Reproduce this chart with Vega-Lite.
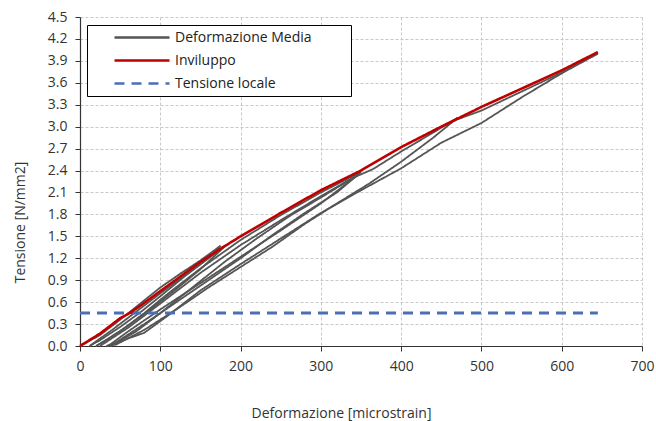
{
  "$schema": "https://vega.github.io/schema/vega-lite/v6.json",
  "width": 562,
  "height": 329,
  "autosize": {"type": "none"},
  "padding": {"left": 80, "top": 17, "right": 14, "bottom": 75},
  "background": "white",
  "config": {
    "font": "Open Sans",
    "view": {"stroke": null},
    "axis": {
      "labelFont": "Open Sans",
      "labelFontSize": 14,
      "labelColor": "#333333",
      "labelFlush": false,
      "titleFont": "Open Sans",
      "titleFontSize": 14,
      "titleFontWeight": "normal",
      "titleColor": "#333333",
      "domainColor": "#333333",
      "domainWidth": 1.2,
      "tickColor": "#333333",
      "tickSize": 5,
      "gridColor": "#c8c8c8",
      "gridDash": [3, 2],
      "gridWidth": 1
    }
  },
  "data": {
    "values": [
      {"s": "g1", "legend": "Deformazione Media", "x": 0, "y": 0},
      {"s": "g1", "legend": "Deformazione Media", "x": 25, "y": 0.15},
      {"s": "g1", "legend": "Deformazione Media", "x": 50, "y": 0.36},
      {"s": "g1", "legend": "Deformazione Media", "x": 75, "y": 0.58},
      {"s": "g1", "legend": "Deformazione Media", "x": 100, "y": 0.8},
      {"s": "g1", "legend": "Deformazione Media", "x": 125, "y": 0.99},
      {"s": "g1", "legend": "Deformazione Media", "x": 150, "y": 1.17},
      {"s": "g1", "legend": "Deformazione Media", "x": 175, "y": 1.37},
      {"s": "g2", "legend": "Deformazione Media", "x": 175, "y": 1.37},
      {"s": "g2", "legend": "Deformazione Media", "x": 160, "y": 1.2},
      {"s": "g2", "legend": "Deformazione Media", "x": 130, "y": 0.95},
      {"s": "g2", "legend": "Deformazione Media", "x": 100, "y": 0.68},
      {"s": "g2", "legend": "Deformazione Media", "x": 75, "y": 0.46},
      {"s": "g2", "legend": "Deformazione Media", "x": 50, "y": 0.26},
      {"s": "g2", "legend": "Deformazione Media", "x": 25, "y": 0.08},
      {"s": "g2", "legend": "Deformazione Media", "x": 12, "y": 0},
      {"s": "g3", "legend": "Deformazione Media", "x": 12, "y": 0},
      {"s": "g3", "legend": "Deformazione Media", "x": 40, "y": 0.22},
      {"s": "g3", "legend": "Deformazione Media", "x": 70, "y": 0.47},
      {"s": "g3", "legend": "Deformazione Media", "x": 100, "y": 0.72},
      {"s": "g3", "legend": "Deformazione Media", "x": 130, "y": 0.96},
      {"s": "g3", "legend": "Deformazione Media", "x": 160, "y": 1.2},
      {"s": "g3", "legend": "Deformazione Media", "x": 180, "y": 1.36},
      {"s": "g4", "legend": "Deformazione Media", "x": 180, "y": 1.36},
      {"s": "g4", "legend": "Deformazione Media", "x": 150, "y": 1.05},
      {"s": "g4", "legend": "Deformazione Media", "x": 120, "y": 0.78},
      {"s": "g4", "legend": "Deformazione Media", "x": 90, "y": 0.52},
      {"s": "g4", "legend": "Deformazione Media", "x": 60, "y": 0.28},
      {"s": "g4", "legend": "Deformazione Media", "x": 30, "y": 0.06},
      {"s": "g4", "legend": "Deformazione Media", "x": 20, "y": 0},
      {"s": "g5", "legend": "Deformazione Media", "x": 20, "y": 0},
      {"s": "g5", "legend": "Deformazione Media", "x": 50, "y": 0.2},
      {"s": "g5", "legend": "Deformazione Media", "x": 80, "y": 0.45},
      {"s": "g5", "legend": "Deformazione Media", "x": 110, "y": 0.72},
      {"s": "g5", "legend": "Deformazione Media", "x": 150, "y": 1.06},
      {"s": "g5", "legend": "Deformazione Media", "x": 200, "y": 1.45},
      {"s": "g5", "legend": "Deformazione Media", "x": 250, "y": 1.79},
      {"s": "g5", "legend": "Deformazione Media", "x": 300, "y": 2.1},
      {"s": "g5", "legend": "Deformazione Media", "x": 350, "y": 2.38},
      {"s": "g6", "legend": "Deformazione Media", "x": 350, "y": 2.38},
      {"s": "g6", "legend": "Deformazione Media", "x": 320, "y": 2.1},
      {"s": "g6", "legend": "Deformazione Media", "x": 280, "y": 1.82},
      {"s": "g6", "legend": "Deformazione Media", "x": 240, "y": 1.52},
      {"s": "g6", "legend": "Deformazione Media", "x": 200, "y": 1.2},
      {"s": "g6", "legend": "Deformazione Media", "x": 160, "y": 0.9},
      {"s": "g6", "legend": "Deformazione Media", "x": 120, "y": 0.6},
      {"s": "g6", "legend": "Deformazione Media", "x": 80, "y": 0.3},
      {"s": "g6", "legend": "Deformazione Media", "x": 45, "y": 0.05},
      {"s": "g6", "legend": "Deformazione Media", "x": 38, "y": 0},
      {"s": "g12", "legend": "Deformazione Media", "x": 25, "y": 0},
      {"s": "g12", "legend": "Deformazione Media", "x": 60, "y": 0.25},
      {"s": "g12", "legend": "Deformazione Media", "x": 100, "y": 0.58},
      {"s": "g12", "legend": "Deformazione Media", "x": 150, "y": 1.0},
      {"s": "g12", "legend": "Deformazione Media", "x": 200, "y": 1.38},
      {"s": "g12", "legend": "Deformazione Media", "x": 250, "y": 1.72},
      {"s": "g12", "legend": "Deformazione Media", "x": 300, "y": 2.05},
      {"s": "g12", "legend": "Deformazione Media", "x": 345, "y": 2.33},
      {"s": "g13", "legend": "Deformazione Media", "x": 345, "y": 2.33},
      {"s": "g13", "legend": "Deformazione Media", "x": 300, "y": 1.95},
      {"s": "g13", "legend": "Deformazione Media", "x": 250, "y": 1.58},
      {"s": "g13", "legend": "Deformazione Media", "x": 200, "y": 1.22},
      {"s": "g13", "legend": "Deformazione Media", "x": 150, "y": 0.86},
      {"s": "g13", "legend": "Deformazione Media", "x": 100, "y": 0.5},
      {"s": "g13", "legend": "Deformazione Media", "x": 60, "y": 0.2},
      {"s": "g13", "legend": "Deformazione Media", "x": 35, "y": 0},
      {"s": "g7", "legend": "Deformazione Media", "x": 38, "y": 0},
      {"s": "g7", "legend": "Deformazione Media", "x": 70, "y": 0.2},
      {"s": "g7", "legend": "Deformazione Media", "x": 100, "y": 0.45},
      {"s": "g7", "legend": "Deformazione Media", "x": 140, "y": 0.8},
      {"s": "g7", "legend": "Deformazione Media", "x": 180, "y": 1.15},
      {"s": "g7", "legend": "Deformazione Media", "x": 220, "y": 1.47},
      {"s": "g7", "legend": "Deformazione Media", "x": 260, "y": 1.77},
      {"s": "g7", "legend": "Deformazione Media", "x": 300, "y": 2.03},
      {"s": "g7", "legend": "Deformazione Media", "x": 340, "y": 2.3},
      {"s": "g7", "legend": "Deformazione Media", "x": 365, "y": 2.42},
      {"s": "g7", "legend": "Deformazione Media", "x": 400, "y": 2.66},
      {"s": "g7", "legend": "Deformazione Media", "x": 440, "y": 2.92},
      {"s": "g7", "legend": "Deformazione Media", "x": 470, "y": 3.12},
      {"s": "g9", "legend": "Deformazione Media", "x": 470, "y": 3.12},
      {"s": "g9", "legend": "Deformazione Media", "x": 440, "y": 2.85},
      {"s": "g9", "legend": "Deformazione Media", "x": 400, "y": 2.52},
      {"s": "g9", "legend": "Deformazione Media", "x": 360, "y": 2.22},
      {"s": "g9", "legend": "Deformazione Media", "x": 320, "y": 1.95},
      {"s": "g9", "legend": "Deformazione Media", "x": 280, "y": 1.67},
      {"s": "g9", "legend": "Deformazione Media", "x": 240, "y": 1.36},
      {"s": "g9", "legend": "Deformazione Media", "x": 200, "y": 1.08},
      {"s": "g9", "legend": "Deformazione Media", "x": 160, "y": 0.8},
      {"s": "g9", "legend": "Deformazione Media", "x": 120, "y": 0.5},
      {"s": "g9", "legend": "Deformazione Media", "x": 80, "y": 0.22},
      {"s": "g9", "legend": "Deformazione Media", "x": 45, "y": 0.02},
      {"s": "g9", "legend": "Deformazione Media", "x": 33, "y": 0},
      {"s": "g10", "legend": "Deformazione Media", "x": 33, "y": 0},
      {"s": "g10", "legend": "Deformazione Media", "x": 80, "y": 0.18},
      {"s": "g10", "legend": "Deformazione Media", "x": 110, "y": 0.42},
      {"s": "g10", "legend": "Deformazione Media", "x": 150, "y": 0.76},
      {"s": "g10", "legend": "Deformazione Media", "x": 200, "y": 1.12},
      {"s": "g10", "legend": "Deformazione Media", "x": 250, "y": 1.47},
      {"s": "g10", "legend": "Deformazione Media", "x": 300, "y": 1.82},
      {"s": "g10", "legend": "Deformazione Media", "x": 350, "y": 2.13},
      {"s": "g10", "legend": "Deformazione Media", "x": 400, "y": 2.43},
      {"s": "g10", "legend": "Deformazione Media", "x": 450, "y": 2.78},
      {"s": "g10", "legend": "Deformazione Media", "x": 500, "y": 3.05},
      {"s": "g10", "legend": "Deformazione Media", "x": 550, "y": 3.4},
      {"s": "g10", "legend": "Deformazione Media", "x": 600, "y": 3.73},
      {"s": "g10", "legend": "Deformazione Media", "x": 645, "y": 4.0},
      {"s": "g11", "legend": "Deformazione Media", "x": 440, "y": 2.95},
      {"s": "g11", "legend": "Deformazione Media", "x": 470, "y": 3.1},
      {"s": "g11", "legend": "Deformazione Media", "x": 500, "y": 3.22},
      {"s": "g11", "legend": "Deformazione Media", "x": 550, "y": 3.48},
      {"s": "g11", "legend": "Deformazione Media", "x": 600, "y": 3.74},
      {"s": "g11", "legend": "Deformazione Media", "x": 645, "y": 4.0},
      {"s": "t", "legend": "Tensione locale", "x": 0, "y": 0.45},
      {"s": "t", "legend": "Tensione locale", "x": 645, "y": 0.45},
      {"s": "r", "legend": "Inviluppo", "x": 0, "y": 0},
      {"s": "r", "legend": "Inviluppo", "x": 25, "y": 0.17},
      {"s": "r", "legend": "Inviluppo", "x": 50, "y": 0.38},
      {"s": "r", "legend": "Inviluppo", "x": 62, "y": 0.45},
      {"s": "r", "legend": "Inviluppo", "x": 75, "y": 0.55},
      {"s": "r", "legend": "Inviluppo", "x": 100, "y": 0.75},
      {"s": "r", "legend": "Inviluppo", "x": 125, "y": 0.95},
      {"s": "r", "legend": "Inviluppo", "x": 150, "y": 1.15},
      {"s": "r", "legend": "Inviluppo", "x": 175, "y": 1.33},
      {"s": "r", "legend": "Inviluppo", "x": 200, "y": 1.5},
      {"s": "r", "legend": "Inviluppo", "x": 250, "y": 1.82},
      {"s": "r", "legend": "Inviluppo", "x": 300, "y": 2.13},
      {"s": "r", "legend": "Inviluppo", "x": 350, "y": 2.4},
      {"s": "r", "legend": "Inviluppo", "x": 400, "y": 2.72},
      {"s": "r", "legend": "Inviluppo", "x": 450, "y": 3.0},
      {"s": "r", "legend": "Inviluppo", "x": 500, "y": 3.27},
      {"s": "r", "legend": "Inviluppo", "x": 550, "y": 3.52},
      {"s": "r", "legend": "Inviluppo", "x": 600, "y": 3.77},
      {"s": "r", "legend": "Inviluppo", "x": 645, "y": 4.02}
    ]
  },
  "encoding": {
    "x": {
      "field": "x", "type": "quantitative",
      "scale": {"domain": [0, 700], "nice": false},
      "axis": {
        "title": "Deformazione [microstrain]",
        "values": [0, 100, 200, 300, 400, 500, 600, 700],
        "labelPadding": 8,
        "titleX": 261, "titleY": 67, "titleBaseline": "middle", "titleAlign": "center"
      }
    },
    "y": {
      "field": "y", "type": "quantitative",
      "scale": {"domain": [0, 4.5], "nice": false},
      "axis": {
        "title": "Tensione [N/mm2]",
        "values": [0, 0.3, 0.6, 0.9, 1.2, 1.5, 1.8, 2.1, 2.4, 2.7, 3.0, 3.3, 3.6, 3.9, 4.2, 4.5],
        "format": ".1f",
        "labelPadding": 8,
        "titleX": -60, "titleY": 205, "titleAngle": -90, "titleBaseline": "middle", "titleAlign": "center"
      }
    },
    "color": {
      "field": "legend", "type": "nominal",
      "scale": {"domain": ["Deformazione Media", "Inviluppo", "Tensione locale"], "range": ["#555555", "#c00000", "#4a6fb5"]},
      "legend": {
        "title": " ",
        "titleOrient": "right",
        "titlePadding": 35,
        "orient": "none",
        "legendX": 7,
        "legendY": 8,
        "padding": 4,
        "strokeColor": "#000000",
        "fillColor": "white",
        "symbolType": "stroke",
        "symbolSize": 3025,
        "symbolStrokeWidth": 2.5,
        "symbolOffset": 22,
        "clipHeight": 17,
        "rowPadding": 6,
        "labelFont": "Open Sans",
        "labelFontSize": 14,
        "labelColor": "#222222",
        "labelOffset": 4
      }
    },
    "strokeDash": {
      "field": "legend", "type": "nominal",
      "scale": {"domain": ["Deformazione Media", "Inviluppo", "Tensione locale"], "range": [[1, 0], [1, 0], [10, 7]]},
      "legend": null
    }
  },
  "layer": [
    {
      "transform": [{"filter": "datum.legend === 'Deformazione Media'"}],
      "mark": {"type": "line", "strokeWidth": 1.8},
      "encoding": {"detail": {"field": "s"}}
    },
    {
      "transform": [{"filter": "datum.legend === 'Tensione locale'"}],
      "mark": {"type": "line", "strokeWidth": 3}
    },
    {
      "transform": [{"filter": "datum.legend === 'Inviluppo'"}],
      "mark": {"type": "line", "strokeWidth": 2.6}
    }
  ]
}
